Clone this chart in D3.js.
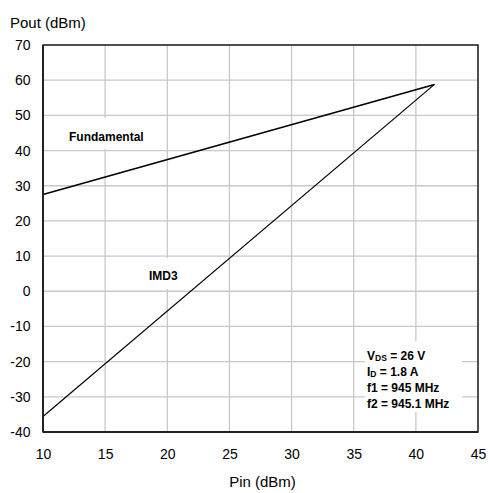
<!DOCTYPE html>
<html><head><meta charset="utf-8">
<script src="https://cdn.jsdelivr.net/npm/d3@7"></script>
<style>body{margin:0;background:#fff}svg{display:block}text{font-family:"Liberation Sans",Arial,sans-serif}</style>
</head><body>
<script>
const xTicks = [10,15,20,25,30,35,40,45];
const yTicks = [70,60,50,40,30,20,10,0,-10,-20,-30,-40];
const fundPin = [10, 41.5];
const fundPout = [27.5, 58.8];
const imdPin = [10, 41.5];
const imdPout = [-35.6, 58.8];
const notes = ["V|DS| = 26 V","I|D| = 1.8 A","f1 = 945 MHz","f2 = 945.1 MHz"];

const W=491,H=493;
const m={l:43,r:13,t:45,b:61};
const svg=d3.select("body").append("svg").attr("width",W).attr("height",H);
const x=d3.scaleLinear().domain([10,45]).range([m.l,W-m.r]);
const y=d3.scaleLinear().domain([-40,70]).range([H-m.b,m.t]);
const fmt=d=>String(d);

// grid
const g=svg.append("g");
g.selectAll(".vx").data(xTicks).enter().append("line")
 .attr("x1",d=>x(d)).attr("x2",d=>x(d)).attr("y1",y(70)).attr("y2",y(-40))
 .attr("stroke","#c8c8c8").attr("stroke-width",1.3);
g.selectAll(".hy").data(yTicks).enter().append("line")
 .attr("y1",d=>y(d)).attr("y2",d=>y(d)).attr("x1",x(10)).attr("x2",x(45))
 .attr("stroke","#c8c8c8").attr("stroke-width",1.3);

// label backgrounds
function bg(x0,y0,w,h){svg.append("rect").attr("x",x0).attr("y",y0).attr("width",w).attr("height",h).attr("fill","#fff");}
bg(66,118,82,31);
bg(145,258,38,31);
bg(365,341,97,71);

// lines
const line=d3.line().x(d=>x(d[0])).y(d=>y(d[1]));
svg.append("path").datum(fundPin.map((p,i)=>[p,fundPout[i]])).attr("d",line)
 .attr("fill","none").attr("stroke","#000").attr("stroke-width",1.6);
svg.append("path").datum(imdPin.map((p,i)=>[p,imdPout[i]])).attr("d",line)
 .attr("fill","none").attr("stroke","#000").attr("stroke-width",1.2);

// frame
svg.append("rect").attr("x",x(10)).attr("y",y(70)).attr("width",x(45)-x(10)).attr("height",y(-40)-y(70))
 .attr("fill","none").attr("stroke","#222").attr("stroke-width",1.5);
svg.append("line").attr("x1",x(10)).attr("x2",x(10)).attr("y1",y(70)).attr("y2",y(-40)).attr("stroke","#222").attr("stroke-width",2);
svg.append("line").attr("x1",x(10)).attr("x2",x(45)).attr("y1",y(-40)).attr("y2",y(-40)).attr("stroke","#222").attr("stroke-width",2);

// axes tick labels
const yAxis=d3.axisLeft(y).tickValues(yTicks).tickFormat(fmt).tickSize(0).tickPadding(12.5);
const ya=svg.append("g").attr("transform",`translate(${m.l},0)`).call(yAxis);
ya.select(".domain").remove();
ya.selectAll("text").attr("font-size",14).attr("fill","#000").style("font-family","Liberation Sans, Arial, sans-serif");
const xAxis=d3.axisBottom(x).tickValues(xTicks).tickFormat(fmt).tickSize(0).tickPadding(17);
const xa=svg.append("g").attr("transform",`translate(0,${H-m.b})`).call(xAxis);
xa.select(".domain").remove();
xa.selectAll("text").attr("font-size",14).attr("fill","#000").style("font-family","Liberation Sans, Arial, sans-serif");

// titles
svg.append("text").attr("x",10).attr("y",28).attr("font-size",15).text("Pout (dBm)");
svg.append("text").attr("x",262.5).attr("y",487).attr("text-anchor","middle").attr("font-size",15).text("Pin (dBm)");

svg.append("text").attr("x",69).attr("y",141).attr("font-size",12).attr("font-weight","bold").text("Fundamental");
svg.append("text").attr("x",149).attr("y",280).attr("font-size",12).attr("font-weight","bold").text("IMD3");

notes.forEach((n,i)=>{
  const t=svg.append("text").attr("x",367).attr("y",359.5+i*16.3).attr("font-size",12).attr("font-weight","bold");
  const parts=n.split("|");
  t.append("tspan").text(parts[0]);
  if(parts.length>1){
    t.append("tspan").attr("font-size",8.5).attr("dy",1).text(parts[1]);
    t.append("tspan").attr("dy",-1).text(parts[2]);
  }
});
</script>
</body></html>
